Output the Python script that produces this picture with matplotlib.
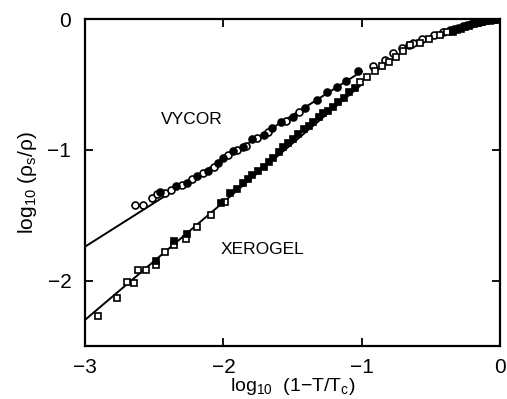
import numpy as np
import matplotlib
matplotlib.use("Agg")
import matplotlib.pyplot as plt

plt.rcParams["font.family"] = ["Liberation Sans", "DejaVu Sans"]
plt.rcParams["mathtext.default"] = "regular"

# Vycor, open circles
vycor_open_x = [-2.64, -2.58, -2.52, -2.48, -2.42, -2.38, -2.30, -2.23, -2.15, -2.07,
                -1.97, -1.90, -1.84, -1.76, -1.68, -1.55, -1.45,
                -0.92, -0.83, -0.77, -0.71, -0.66, -0.63, -0.56, -0.48, -0.41]
vycor_open_y = [-1.42, -1.42, -1.37, -1.34, -1.33, -1.31, -1.27, -1.22, -1.18, -1.13,
                -1.04, -1.00, -0.97, -0.91, -0.86, -0.78, -0.71,
                -0.36, -0.31, -0.26, -0.22, -0.20, -0.18, -0.15, -0.12, -0.10]
# Vycor, filled circles
vycor_filled_x = [-2.46, -2.34, -2.26, -2.19, -2.11, -2.04, -2.00, -1.93, -1.86, -1.79,
                  -1.71, -1.65, -1.58, -1.50, -1.41, -1.32, -1.25, -1.18, -1.11, -1.03,
                  -0.36, -0.33, -0.30, -0.27, -0.24, -0.21, -0.18, -0.15, -0.12, -0.10,
                  -0.08, -0.06, -0.04, -0.02, -0.01]
vycor_filled_y = [-1.32, -1.28, -1.25, -1.20, -1.16, -1.10, -1.06, -1.01, -0.98, -0.92,
                  -0.89, -0.83, -0.79, -0.75, -0.68, -0.62, -0.56, -0.52, -0.47, -0.40,
                  -0.085, -0.075, -0.065, -0.055, -0.045, -0.035, -0.025, -0.018, -0.012, -0.009,
                  -0.006, -0.004, -0.002, -0.001, 0.0]

# Xerogel, open squares
xero_open_x = [-2.91, -2.77, -2.70, -2.65, -2.62, -2.56, -2.49, -2.42, -2.36, -2.27,
               -2.19, -2.09, -1.99,
               -1.01, -0.96, -0.90, -0.85, -0.80, -0.75, -0.70, -0.65, -0.58, -0.51,
               -0.43, -0.38]
xero_open_y = [-2.27, -2.13, -2.01, -2.02, -1.92, -1.92, -1.88, -1.78, -1.73, -1.68,
               -1.59, -1.50, -1.40,
               -0.48, -0.44, -0.40, -0.36, -0.33, -0.29, -0.24, -0.20, -0.18, -0.15,
               -0.12, -0.10]
# Xerogel, filled squares
xero_filled_x = [-2.49, -2.36, -2.26, -2.02, -1.95, -1.90, -1.86, -1.82, -1.79, -1.75,
                 -1.71, -1.67, -1.64, -1.60, -1.57, -1.53, -1.50, -1.46, -1.42, -1.38,
                 -1.35, -1.31, -1.28, -1.24, -1.21, -1.17, -1.13, -1.09, -1.05,
                 -0.34, -0.31, -0.28, -0.25, -0.22, -0.19, -0.16, -0.13, -0.10, -0.08,
                 -0.06, -0.04, -0.02]
xero_filled_y = [-1.85, -1.70, -1.64, -1.41, -1.33, -1.30, -1.25, -1.22, -1.19, -1.16,
                 -1.13, -1.09, -1.06, -1.02, -0.98, -0.95, -0.92, -0.88, -0.84, -0.82,
                 -0.79, -0.75, -0.72, -0.70, -0.67, -0.63, -0.60, -0.56, -0.53,
                 -0.095, -0.085, -0.072, -0.062, -0.05, -0.04, -0.03, -0.021, -0.014, -0.009,
                 -0.005, -0.003, -0.001]

# power-law fits: log(rho_s/rho) = a + b*log(t)
vycor_fit = (0.27, 0.67)
xero_fit = (0.40, 0.90)
fit_range = (-3.0, -1.0)

fig = plt.figure(figsize=(5.07, 3.99), dpi=100)
ax = fig.add_axes([0.168, 0.133, 0.818, 0.819])

xs = np.linspace(fit_range[0], fit_range[1], 50)
ax.plot(xs, vycor_fit[0] + vycor_fit[1] * xs, color="black", lw=1.4)
ax.plot(xs, xero_fit[0] + xero_fit[1] * xs, color="black", lw=1.4)

ax.plot(vycor_open_x, vycor_open_y, "o", ms=5, mfc="white", mec="black", mew=1.2)
ax.plot(vycor_filled_x, vycor_filled_y, "o", ms=5, mfc="black", mec="black", mew=1.2)
ax.plot(xero_open_x, xero_open_y, "s", ms=4.3, mfc="white", mec="black", mew=1.2)
ax.plot(xero_filled_x, xero_filled_y, "s", ms=4.3, mfc="black", mec="black", mew=1.2)

ax.text(-2.23, -0.77, "VYCOR", fontsize=12.5, ha="center", va="center")
ax.text(-1.72, -1.76, "XEROGEL", fontsize=12.5, ha="center", va="center")

ax.set_xlim(-3, 0)
ax.set_ylim(-2.5, 0)
ax.set_xticks([-3, -2, -1, 0])
ax.set_yticks([-2, -1, 0])
ax.tick_params(direction="in", length=6, width=1.3, labelsize=15,
               top=True, right=True)
ax.tick_params(axis="x", pad=9)
ax.tick_params(axis="y", pad=10)
for s in ax.spines.values():
    s.set_linewidth(1.6)

ax.set_xlabel("log$_{10}$  (1\u2212T/T$_c$)", fontsize=14, va="center")
ax.xaxis.set_label_coords(0.5, -0.125)
ax.set_ylabel("log$_{10}$ (\u03c1$_s$/\u03c1)", fontsize=15, va="center")
ax.yaxis.set_label_coords(-0.14, 0.5)

fig.savefig("out.png", dpi=100)
